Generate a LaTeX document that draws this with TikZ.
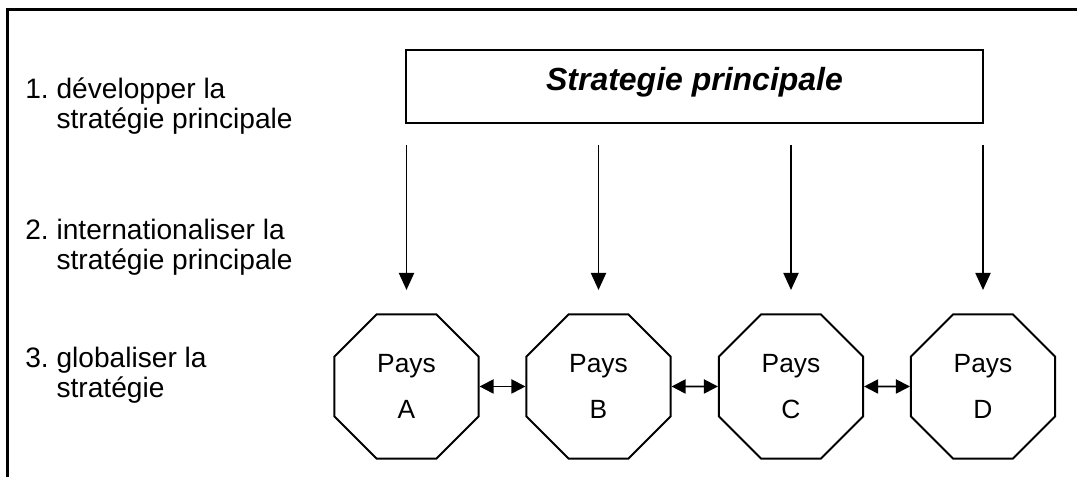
\documentclass[tikz,border=0pt]{standalone}
\usepackage{fontspec}
\setmainfont{Liberation Sans}
\usetikzlibrary{arrows.meta,shapes.geometric}

\tikzset{
  pays/.style={draw,line width=1.1pt,regular polygon,regular polygon sides=8,
    minimum size=3.12cm,inner sep=0pt,align=center,font=\fontsize{15}{26.5}\selectfont},
  down/.style={-{Triangle[length=0.34cm,width=0.3cm]},line width=1.1pt},
  both/.style={{Triangle[length=0.28cm,width=0.28cm]}-{Triangle[length=0.28cm,width=0.28cm]},line width=1.1pt},
  etape/.style={anchor=base west,inner sep=0pt,font=\fontsize{16}{17}\selectfont}
}

\begin{document}
\begin{tikzpicture}
\useasboundingbox (0,0) rectangle (21.54,9.54);

%frame
\draw[line width=1.7pt] (0.15,0) -- (0.15,9.34) -- (21.54,9.34);

%steps
\node[etape] (e1) at (0.5,7.56) {\begin{tabular}[t]{@{}l@{\ }l@{}}1.&développer la\\&stratégie principale\end{tabular}};
\node[etape] (e2) at (0.5,4.74) {\begin{tabular}[t]{@{}l@{\ }l@{}}2.&internationaliser la\\&stratégie principale\end{tabular}};
\node[etape] (e3) at (0.5,2.18) {\begin{tabular}[t]{@{}l@{\ }l@{}}3.&globaliser la\\&stratégie\end{tabular}};

%main strategy
\node[draw,line width=1.1pt,minimum width=11.54cm,minimum height=1.46cm,inner sep=0pt,
  text height=13.5pt,text depth=9.5pt,font=\fontsize{18.2}{20}\selectfont\bfseries\itshape]
  (strat) at (13.89,7.81) {Strategie principale};

%countries
\foreach \n/\x in {A/8.13,B/11.97,C/15.82,D/19.66} {
  \node[pays] (p\n) at (\x,1.81) {Pays\\\n};
  \coordinate (t\n) at (\x,6.64);
  \coordinate (h\n) at (\x,3.74);
  \draw[down] (t\n) -- (h\n);
}

\draw[both] (pA.east) -- (pB.west);
\draw[both] (pB.east) -- (pC.west);
\draw[both] (pC.east) -- (pD.west);
\end{tikzpicture}
\end{document}
